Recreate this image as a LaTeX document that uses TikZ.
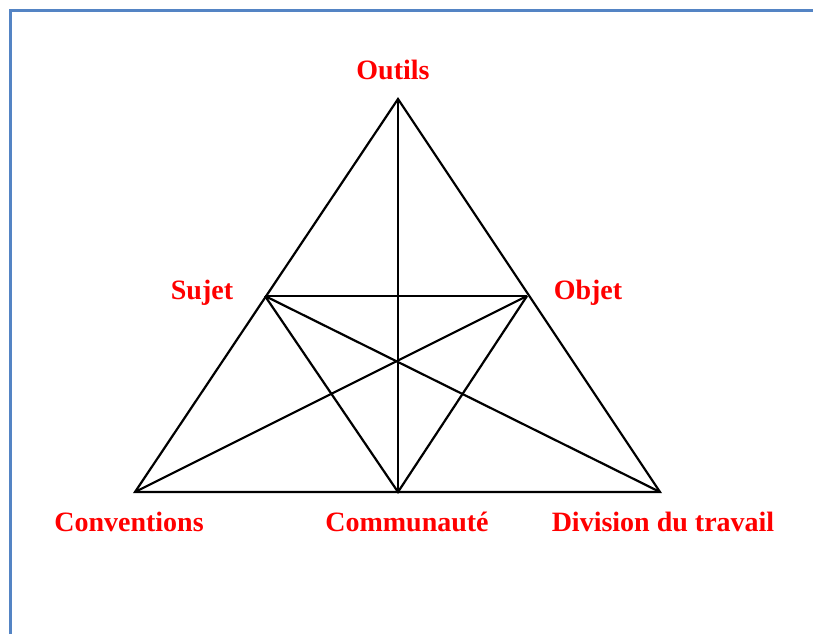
\documentclass[tikz,border=0pt]{standalone}
\usepackage{fontspec}
\setmainfont{Liberation Serif}
\definecolor{frameblue}{RGB}{84,132,196}
\begin{document}
\begin{tikzpicture}[x=1pt,y=-1pt,
  edge/.style={line width=2.2pt,black,line join=miter},
  lab/.style={text=red,font=\fontsize{28}{31}\selectfont\bfseries,inner sep=0pt}]
\useasboundingbox (0,0) rectangle (813,634);
\draw[frameblue,line width=3pt] (10,634) -- (10,11) -- (813,11);
\coordinate (top) at (398,99);
\coordinate (suj) at (265,296);
\coordinate (obj) at (527,296);
\coordinate (bl) at (135,492);
\coordinate (com) at (398,492);
\coordinate (br) at (660,492);
\draw[edge] (top) -- (bl) -- (br) -- cycle;
\draw[edge] (top) -- (com);
\draw[edge] (suj) -- (obj);
\draw[edge] (suj) -- (com) -- (obj);
\draw[edge] (suj) -- (br);
\draw[edge] (obj) -- (bl);
\node[lab] (lout) at (393,70) {Outils};
\node[lab] (lsuj) at (202,293) {Sujet};
\node[lab] (lobj) at (588,293) {Objet};
\node[lab] (lcon) at (129,522) {Conventions};
\node[lab] (lcom) at (407,522) {Communauté};
\node[lab] (ldiv) at (663,522) {Division du travail};
\end{tikzpicture}
\end{document}
